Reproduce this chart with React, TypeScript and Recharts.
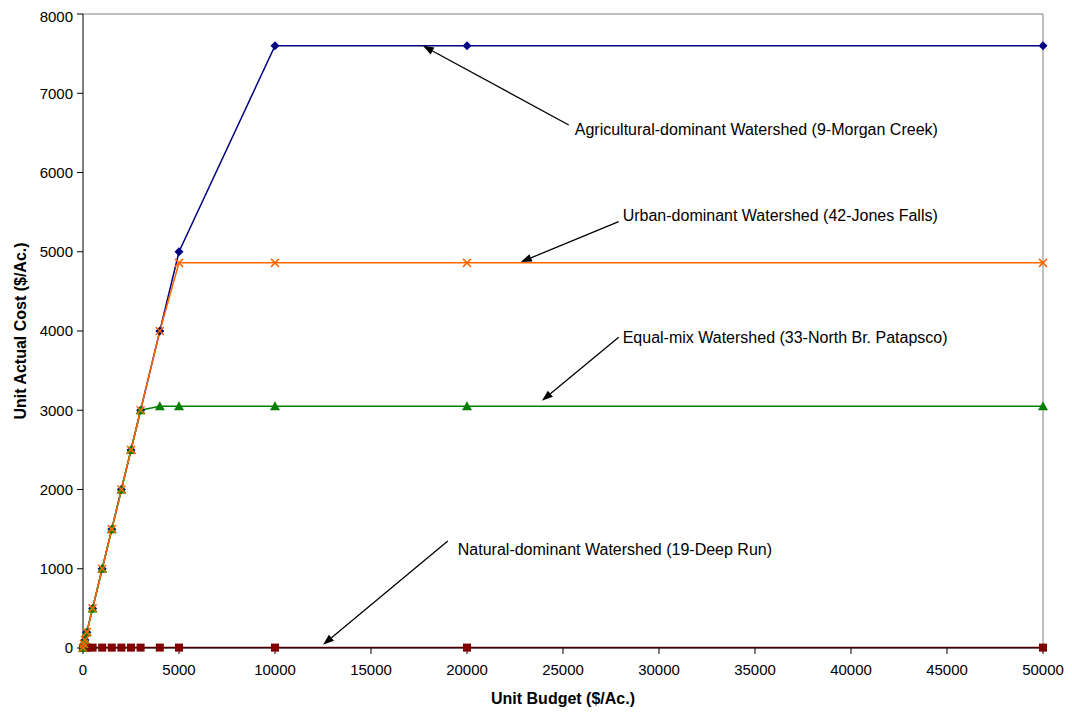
import { Line, LineChart, ReferenceLine, XAxis, YAxis } from 'recharts';

const budget = [0, 50, 100, 200, 500, 1000, 1500, 2000, 2500, 3000, 4000, 5000, 10000, 20000, 50000];
const agricultural = [0, 50, 100, 200, 500, 1000, 1500, 2000, 2500, 3000, 4000, 5000, 7600, 7600, 7600];
const urban = [0, 50, 100, 200, 500, 1000, 1500, 2000, 2500, 3000, 4000, 4860, 4860, 4860, 4860];
const equalMix = [0, 50, 100, 200, 500, 1000, 1500, 2000, 2500, 3000, 3050, 3050, 3050, 3050, 3050];
const natural = [0, 5, 5, 5, 5, 5, 5, 5, 5, 5, 5, 5, 5, 5, 5];

const xTicks = [0, 5000, 10000, 15000, 20000, 25000, 30000, 35000, 40000, 45000, 50000];
const yTicks = [0, 1000, 2000, 3000, 4000, 5000, 6000, 7000, 8000];

// arrow tail (x1,y1) -> tip (x2,y2), in data units; dx/dy shift the text from the tail
const notes = [
  { text: 'Agricultural-dominant Watershed (9-Morgan Creek)', x1: 25300, y1: 6600, x2: 17700, y2: 7600, dx: 6, dy: 6 },
  { text: 'Urban-dominant Watershed (42-Jones Falls)', x1: 27900, y1: 5380, x2: 22800, y2: 4870, dx: 4, dy: -5 },
  { text: 'Equal-mix Watershed (33-North Br. Patapsco)', x1: 27900, y1: 3920, x2: 23900, y2: 3120, dx: 4, dy: 1 },
  { text: 'Natural-dominant Watershed (19-Deep Run)', x1: 19000, y1: 1350, x2: 12500, y2: 40, dx: 10, dy: 10 },
];

const data = budget.map((b, i) => ({
  budget: b,
  agricultural: agricultural[i],
  urban: urban[i],
  equalMix: equalMix[i],
  natural: natural[i],
}));

const font = 'Arial, "Liberation Sans", sans-serif';

const diamond = (p: any) => (
  <path key={`d${p.index}`} d={`M${p.cx},${p.cy - 4.5}L${p.cx + 4.5},${p.cy}L${p.cx},${p.cy + 4.5}L${p.cx - 4.5},${p.cy}Z`} fill="#000080" />
);
const cross = (p: any) => (
  <path key={`x${p.index}`} d={`M${p.cx - 4},${p.cy - 4}L${p.cx + 4},${p.cy + 4}M${p.cx - 4},${p.cy + 4}L${p.cx + 4},${p.cy - 4}`} stroke="#FF6600" strokeWidth={1.5} fill="none" />
);
const triangle = (p: any) => (
  <path key={`t${p.index}`} d={`M${p.cx},${p.cy - 5}L${p.cx + 5},${p.cy + 4}L${p.cx - 5},${p.cy + 4}Z`} fill="#008000" />
);
const square = (p: any) => (
  <rect key={`s${p.index}`} x={p.cx - 4} y={p.cy - 4} width={8} height={8} fill="#800000" />
);

function arrowShape(note: (typeof notes)[number]) {
  return (p: any) => {
    const { x1, y1, x2, y2 } = p;
    const ang = Math.atan2(y2 - y1, x2 - x1);
    const len = 11;
    const w = 4;
    const bx = x2 - len * Math.cos(ang);
    const by = y2 - len * Math.sin(ang);
    const px = -Math.sin(ang) * w;
    const py = Math.cos(ang) * w;
    return (
      <g>
        <line x1={x1} y1={y1} x2={bx} y2={by} stroke="#000" strokeWidth={1.3} />
        <path d={`M${x2},${y2}L${bx + px},${by + py}L${bx - px},${by - py}Z`} fill="#000" />
        <text x={x1 + note.dx} y={y1 + note.dy} fontSize={16} fontFamily={font} fill="#000" dominantBaseline="middle">
          {note.text}
        </text>
      </g>
    );
  };
}

export default function App() {
  return (
    <LineChart width={1064} height={704} data={data} margin={{ top: 6, right: 29, left: 0, bottom: 4 }}>
      <XAxis
        dataKey="budget"
        type="number"
        domain={[0, 50000]}
        ticks={xTicks}
        stroke="#000"
        tick={{ fontSize: 15, fontFamily: font, fill: '#000' }}
        tickLine={{ stroke: '#000' }}
        tickMargin={10}
        height={60}
        label={{ value: 'Unit Budget ($/Ac.)', position: 'insideBottom', offset: 4, fontSize: 16, fontWeight: 'bold', fontFamily: font, fill: '#000' }}
      />
      <YAxis
        type="number"
        domain={[0, 8000]}
        ticks={yTicks}
        stroke="#000"
        width={75}
        tick={{ fontSize: 15, fontFamily: font, fill: '#000' }}
        tickLine={{ stroke: '#000' }}
        tickMargin={4}
        label={{ value: 'Unit Actual Cost ($/Ac.)', angle: -90, position: 'insideLeft', offset: 12, fontSize: 16, fontWeight: 'bold', fontFamily: font, fill: '#000', style: { textAnchor: 'middle' } }}
      />
      <ReferenceLine y={8000} stroke="#808080" />
      <ReferenceLine x={50000} stroke="#808080" />
      <Line dataKey="agricultural" stroke="#000080" strokeWidth={1.5} dot={diamond} isAnimationActive={false} />
      <Line dataKey="natural" stroke="#800000" strokeWidth={1.5} dot={square} isAnimationActive={false} />
      <Line dataKey="equalMix" stroke="#008000" strokeWidth={1.5} dot={triangle} isAnimationActive={false} />
      <Line dataKey="urban" stroke="#FF6600" strokeWidth={1.5} dot={cross} isAnimationActive={false} />
      {notes.map((n) => (
        <ReferenceLine
          key={n.text}
          segment={[{ x: n.x1, y: n.y1 }, { x: n.x2, y: n.y2 }]}
          stroke="#000"
          shape={arrowShape(n)}
        />
      ))}
    </LineChart>
  );
}
